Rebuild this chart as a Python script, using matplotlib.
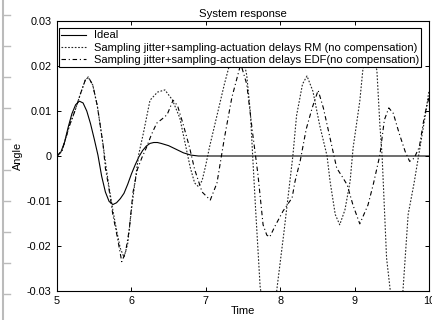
import matplotlib
matplotlib.use("Agg")
import matplotlib.pyplot as plt
from matplotlib.lines import Line2D

plt.rcParams['font.family'] = ['Liberation Sans', 'DejaVu Sans']

# ---- data ----
t_ideal = [5.0, 5.05, 5.1, 5.15, 5.2, 5.25, 5.3, 5.35, 5.4, 5.45, 5.5, 5.55,
           5.6, 5.65, 5.7, 5.75, 5.8, 5.85, 5.9, 5.95, 6.0, 6.05, 6.1, 6.15,
           6.2, 6.25, 6.3, 6.35, 6.4, 6.5, 6.6, 6.7, 6.8, 6.9, 7.0, 10.0]
y_ideal = [0.0, 0.0008, 0.003, 0.0064, 0.0094, 0.0114, 0.0122, 0.0118, 0.0100,
           0.0072, 0.0038, 0.0002, -0.0045, -0.0080, -0.0101, -0.0108, -0.0104,
           -0.0095, -0.0083, -0.0063, -0.0040, -0.0020, -0.0002, 0.0012, 0.0022,
           0.0028, 0.0030, 0.0030, 0.0028, 0.0023, 0.0015, 0.0007, 0.0002, 0.0,
           0.0, 0.0]

t_rm = [5.0, 5.07, 5.17, 5.24, 5.31, 5.38, 5.42, 5.48, 5.54, 5.58, 5.62, 5.66,
        5.7, 5.75, 5.8, 5.85, 5.9, 5.95, 6.0, 6.05, 6.1, 6.16, 6.25, 6.35, 6.45,
        6.55, 6.65, 6.72, 6.79, 6.85, 6.9, 6.95, 7.0, 7.05, 7.15, 7.25, 7.33,
        7.45, 7.55, 7.6, 7.63, 7.67, 7.73, 7.8, 7.86, 7.92, 7.96, 8.05, 8.17,
        8.22, 8.3, 8.36, 8.44, 8.53, 8.63, 8.67, 8.74, 8.8, 8.87, 8.94, 8.98,
        9.07, 9.11, 9.2, 9.3, 9.34, 9.37, 9.43, 9.48, 9.56, 9.65, 9.72, 9.8,
        9.88, 9.95, 10.0]
y_rm = [0.0, 0.0013, 0.0069, 0.0100, 0.0136, 0.0169, 0.0175, 0.0158, 0.0113,
        0.0069, 0.0024, -0.0025, -0.0070, -0.0120, -0.0165, -0.0205, -0.0225,
        -0.0195, -0.0120, -0.0055, 0.0005, 0.0050, 0.0124, 0.0142, 0.0147,
        0.0125, 0.0085, 0.0030, -0.0025, -0.0060, -0.0068, -0.0055, -0.0020,
        0.0020, 0.0090, 0.0160, 0.0210, 0.0260, 0.0180, 0.0095, 0.0, -0.0120,
        -0.0290, -0.0370, -0.0385, -0.0350, -0.0290, -0.0170, 0.0, 0.0090,
        0.0160, 0.0178, 0.0144, 0.0069, 0.0, -0.0056, -0.0130, -0.0153,
        -0.0120, -0.0056, 0.0018, 0.0122, 0.0190, 0.0260, 0.0190, 0.0069, 0.0,
        -0.0227, -0.0300, -0.0370, -0.0300, -0.0130, -0.0060, 0.0020, 0.0090,
        0.0145]

t_edf = [5.0, 5.07, 5.17, 5.24, 5.31, 5.38, 5.42, 5.48, 5.54, 5.58, 5.62, 5.65,
         5.69, 5.75, 5.81, 5.87, 5.92, 5.97, 6.02, 6.08, 6.14, 6.2, 6.27, 6.34,
         6.41, 6.48, 6.56, 6.62, 6.7, 6.78, 6.85, 6.95, 7.06, 7.15, 7.25, 7.35,
         7.47, 7.55, 7.63, 7.7, 7.77, 7.82, 7.86, 7.93, 8.04, 8.16, 8.2, 8.27,
         8.35, 8.43, 8.51, 8.58, 8.65, 8.71, 8.76, 8.83, 8.9, 8.98, 9.07, 9.18,
         9.25, 9.34, 9.4, 9.46, 9.52, 9.6, 9.68, 9.74, 9.8, 9.87, 9.94, 10.0]
y_edf = [0.0, 0.0013, 0.0069, 0.0100, 0.0136, 0.0169, 0.0176, 0.0158, 0.0113,
         0.0069, 0.0024, -0.0027, -0.0064, -0.0130, -0.0180, -0.0235, -0.0215,
         -0.0165, -0.0082, -0.0030, -0.0004, 0.0018, 0.0048, 0.0073, 0.0082,
         0.0092, 0.0124, 0.0112, 0.0068, 0.0020, -0.0030, -0.0080, -0.0098,
         -0.0060, 0.0040, 0.0130, 0.0205, 0.0160, 0.0050, -0.0040, -0.0153,
         -0.0176, -0.0180, -0.0156, -0.0122, -0.0093, -0.0056, -0.0010, 0.0060,
         0.0107, 0.0146, 0.0107, 0.0055, 0.0010, -0.0027, -0.0045, -0.0064,
         -0.0110, -0.0151, -0.0109, -0.0064, 0.0002, 0.0080, 0.0107, 0.0095,
         0.0050, 0.0010, -0.0012, -0.0005, 0.0020, 0.0090, 0.0130]

labels = ['Ideal',
          'Sampling jitter+sampling-actuation delays RM (no compensation)',
          'Sampling jitter+sampling-actuation delays EDF(no compensation)']

fig = plt.figure(figsize=(4.32, 3.2), dpi=100)
ax = fig.add_axes([0.132, 0.091, 0.861, 0.843])

ax.plot(t_ideal, y_ideal, color='black', lw=0.8, label=labels[0])
ax.plot(t_rm, y_rm, color='#222222', lw=0.8, linestyle=(0, (1.5, 1.5)), label=labels[1])
ax.plot(t_edf, y_edf, color='black', lw=0.8, linestyle=(0, (4, 2.5, 1, 2.5)), label=labels[2])

ax.set_xlim(5, 10)
ax.set_ylim(-0.03, 0.03)
ax.set_xticks([5, 6, 7, 8, 9, 10])
ax.set_yticks([-0.03, -0.02, -0.01, 0, 0.01, 0.02, 0.03])
ax.set_yticklabels(['-0.03', '-0.02', '-0.01', '0', '0.01', '0.02', '0.03'])
ax.tick_params(direction='in', top=True, right=True, labelsize=7.8, length=3, width=0.7, pad=4)
for s in ax.spines.values():
    s.set_linewidth(0.8)

ax.set_title('System response', fontsize=8.2, pad=3)
ax.set_xlabel('Time', fontsize=8, labelpad=0)
ax.set_ylabel('Angle', fontsize=7.8, labelpad=3)

leg = ax.legend(loc='upper left', bbox_to_anchor=(0.0, 0.982), fontsize=8,
                fancybox=False, edgecolor='black', framealpha=1, handlelength=2.2,
                borderpad=0.2, labelspacing=0.2, handletextpad=0.7, borderaxespad=0.2)
leg.get_frame().set_linewidth(0.8)

# grey strip from the scan at the left edge
fig.add_artist(Line2D([0.008, 0.008], [0.0, 1.0], color='#bbbbbb', lw=1.5))
for yy in range(15, 320, 31):
    yf = 1 - yy / 320
    fig.add_artist(Line2D([0.008, 0.023], [yf, yf], color='#bbbbbb', lw=1.0))

fig.savefig('out.png', dpi=100)
